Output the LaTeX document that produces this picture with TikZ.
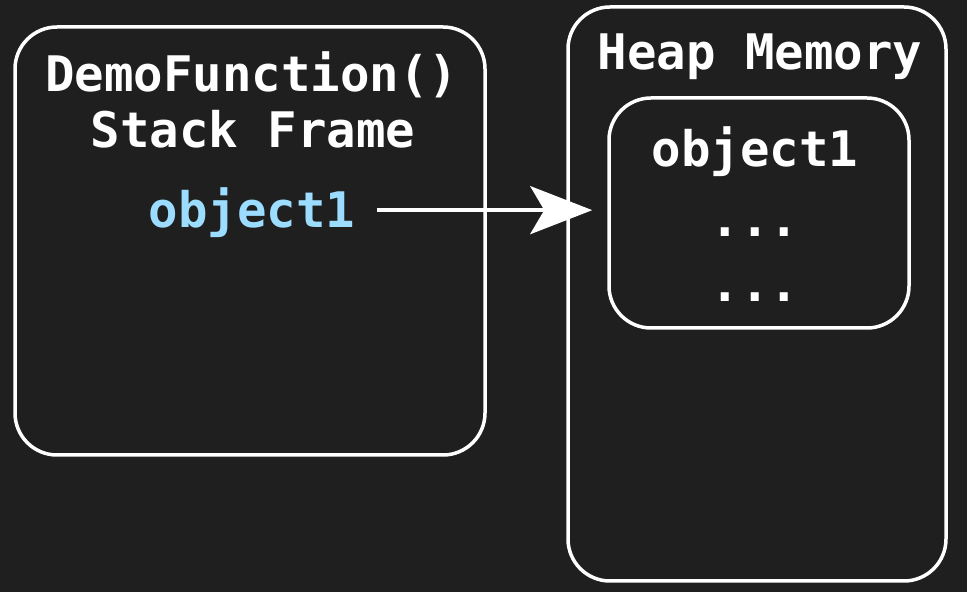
\documentclass[tikz,border=0pt]{standalone}
\usepackage{xcolor}
\usepackage{fontspec}
\setmonofont{DejaVu Sans Mono}
\usepackage{tikz}
\usetikzlibrary{arrows.meta, positioning, calc}
\definecolor{bgdark}{HTML}{1F1F1F}
\definecolor{varblue}{HTML}{9CDCFE}
\tikzset{
	framebox/.style={draw=white, line width=3.5pt, rounded corners=42pt, fill=bgdark},
	codetext/.style={font=\fontsize{49}{54}\selectfont\ttfamily\bfseries, text=white, anchor=base, inner sep=0pt},
	refarr/.style={-{Stealth[length=62pt, width=48pt, inset=14pt]}, line width=4pt, white},
}

\begin{document}
\begin{tikzpicture}[x=1pt, y=1pt]
				\fill[bgdark] (0,0) rectangle (967,592);
				\useasboundingbox (0,0) rectangle (967,592);
				\node[framebox, minimum width=470pt, minimum height=428pt] (stackbox) at (250,351) {};
				\node[framebox, minimum width=378pt, minimum height=574pt] (heapbox) at (757,298) {};
				\node[framebox, minimum width=300pt, minimum height=230pt] (objbox) at (759,379) {};
				\node[codetext] (stacktitle) at (252,500) {DemoFunction()};
				\node[codetext] (stacksub) at (253,444) {Stack Frame};
				\node[codetext, text=varblue] (stackobj) at (252,364) {object1};
				\node[codetext] (heaptitle) at (760,522) {Heap Memory};
				\node[codetext] (heapobj) at (755,425) {object1};
				\node[codetext] (dotsa) at (755,355) {...};
				\node[codetext] (dotsb) at (755,290) {...};
				\coordinate (arrstart) at ($(stackobj.east)+(22,3)$);
				\draw[refarr, shorten >=15pt] (arrstart) -- (arrstart -| objbox.west);
			\end{tikzpicture}
\end{document}
